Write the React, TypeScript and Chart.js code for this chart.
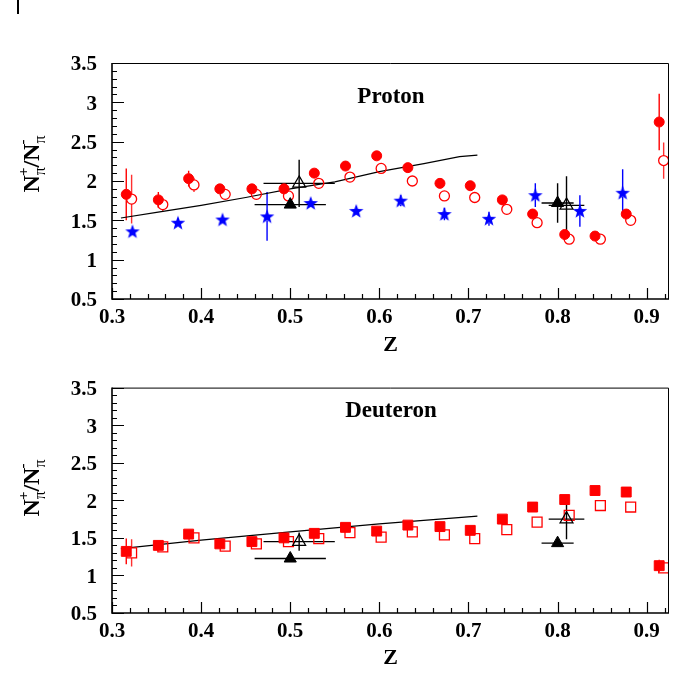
import React, { useEffect, useRef } from "react";
import { Chart, registerables } from "chart.js";
Chart.register(...registerables);

// ---------- data ----------
const zFilled = [0.316, 0.352, 0.386, 0.421, 0.457, 0.493, 0.527, 0.562, 0.597, 0.632, 0.668, 0.702, 0.738, 0.772, 0.808, 0.842, 0.877, 0.914];
const zOpen = [0.322, 0.357, 0.392, 0.427, 0.462, 0.498, 0.532, 0.567, 0.602, 0.637, 0.673, 0.707, 0.743, 0.777, 0.813, 0.848, 0.882, 0.919];

const protonFilled = [1.83, 1.76, 2.03, 1.90, 1.90, 1.90, 2.10, 2.19, 2.32, 2.17, 1.97, 1.94, 1.76, 1.58, 1.32, 1.30, 1.58, 2.75];
const protonFilledErr = [0.33, 0.1, 0.1, 0.06, 0.06, 0.06, 0.06, 0.06, 0.06, 0.05, 0.04, 0.04, 0.04, 0.04, 0.05, 0.05, 0.06, 0.36];
const protonOpen = [1.77, 1.70, 1.95, 1.83, 1.83, 1.81, 1.97, 2.05, 2.16, 2.00, 1.81, 1.79, 1.64, 1.47, 1.26, 1.26, 1.50, 2.26];
const protonOpenErr = [0.31, 0.08, 0.09, 0.05, 0.05, 0.05, 0.05, 0.05, 0.05, 0.04, 0.04, 0.04, 0.04, 0.04, 0.04, 0.04, 0.05, 0.23];

const zStar = [0.323, 0.374, 0.424, 0.474, 0.523, 0.574, 0.624, 0.673, 0.723, 0.775, 0.825, 0.873];
const protonStar = [1.36, 1.47, 1.51, 1.55, 1.72, 1.62, 1.75, 1.58, 1.52, 1.82, 1.62, 1.85];
const protonStarErr = [0.02, 0.02, 0.02, 0.31, 0.03, 0.03, 0.07, 0.08, 0.09, 0.15, 0.2, 0.3];

const zTriFilled = [0.5, 0.8];
const zTriFilledErr = [0.04, 0.018];
const zTriOpen = [0.51, 0.81];
const zTriOpenErr = [0.04, 0.02];
const protonTriFilled = [1.70, 1.72];
const protonTriFilledErr = [0, 0.25];
const protonTriOpen = [1.97, 1.69];
const protonTriOpenErr = [0.3, 0.37];

const zCurveP = [0.31, 0.35, 0.40, 0.45, 0.50, 0.55, 0.60, 0.65, 0.69, 0.71];
const protonCurve = [1.53, 1.60, 1.69, 1.79, 1.90, 1.99, 2.12, 2.22, 2.31, 2.33];

const deutFilled = [1.32, 1.40, 1.55, 1.42, 1.45, 1.50, 1.56, 1.64, 1.59, 1.67, 1.65, 1.60, 1.75, 1.91, 2.01, 2.13, 2.11, 1.13];
const deutFilledErr = [0.17, 0.04, 0.03, 0.03, 0.03, 0.03, 0.03, 0.03, 0.03, 0.03, 0.03, 0.03, 0.03, 0.03, 0.03, 0.03, 0.03, 0.08];
const deutOpen = [1.30, 1.38, 1.50, 1.39, 1.42, 1.45, 1.49, 1.57, 1.51, 1.58, 1.54, 1.49, 1.61, 1.71, 1.80, 1.93, 1.91, 1.10];
const deutOpenErr = [0.18, 0.03, 0.03, 0.03, 0.03, 0.03, 0.03, 0.03, 0.03, 0.03, 0.03, 0.03, 0.03, 0.03, 0.03, 0.03, 0.03, 0.06];

const deutTriFilled = [1.225, 1.43];
const deutTriFilledErr = [0, 0];
const deutTriOpen = [1.45, 1.75];
const deutTriOpenErr = [0.12, 0.27];

const zCurveD = [0.31, 0.40, 0.50, 0.60, 0.71];
const deutCurve = [1.356, 1.47, 1.58, 1.685, 1.79];

const xTicks = [0.3, 0.4, 0.5, 0.6, 0.7, 0.8, 0.9];
const yTicks = [0.5, 1, 1.5, 2, 2.5, 3, 3.5];
const X_MIN = 0.3, X_MAX = 0.925, Y_MIN = 0.5, Y_MAX = 3.5;

// ---------- helpers ----------
const SERIF = "'Liberation Serif', 'Times New Roman', serif";

function pts(xs: number[], ys: number[]) {
  return xs.map((x, i) => ({ x, y: ys[i] }));
}

let starImg: HTMLCanvasElement | null = null;
function getStar() {
  if (starImg) return starImg;
  const c = document.createElement("canvas");
  const S = 16;
  c.width = S; c.height = S;
  const g = c.getContext("2d")!;
  const cx = S / 2, cy = S / 2 + 0.6, R = 7.6, r = 3.1;
  g.beginPath();
  for (let i = 0; i < 10; i++) {
    const a = -Math.PI / 2 + (i * Math.PI) / 5;
    const rr = i % 2 === 0 ? R : r;
    const px = cx + rr * Math.cos(a), py = cy + rr * Math.sin(a);
    if (i === 0) g.moveTo(px, py); else g.lineTo(px, py);
  }
  g.closePath();
  g.fillStyle = "#0000ff";
  g.fill();
  starImg = c;
  return c;
}

const physPlugin = {
  id: "physPlugin",
  beforeDatasetsDraw(chart: any) {
    const { ctx } = chart;
    const xs = chart.scales.x, ys = chart.scales.y;
    ctx.save();
    chart.data.datasets.forEach((ds: any) => {
      if (!ds.yErr && !ds.xErr) return;
      const gap = ds.errGap || 0;
      ctx.strokeStyle = ds.errColor;
      ctx.lineWidth = 1.4;
      ds.data.forEach((p: any, j: number) => {
        const px = xs.getPixelForValue(p.x), py = ys.getPixelForValue(p.y);
        ctx.beginPath();
        if (ds.yErr && ds.yErr[j]) {
          const t = ys.getPixelForValue(p.y + ds.yErr[j]);
          const b = ys.getPixelForValue(p.y - ds.yErr[j]);
          if (py - gap > t) { ctx.moveTo(px, t); ctx.lineTo(px, py - gap); }
          if (py + gap < b) { ctx.moveTo(px, py + gap); ctx.lineTo(px, b); }
        }
        if (ds.xErr && ds.xErr[j]) {
          const l = xs.getPixelForValue(p.x - ds.xErr[j]);
          const r = xs.getPixelForValue(p.x + ds.xErr[j]);
          if (px - gap > l) { ctx.moveTo(l, py); ctx.lineTo(px - gap, py); }
          if (px + gap < r) { ctx.moveTo(px + gap, py); ctx.lineTo(r, py); }
        }
        ctx.stroke();
      });
    });
    ctx.restore();
  },
  afterDraw(chart: any) {
    const { ctx, chartArea: a } = chart;
    const xs = chart.scales.x, ys = chart.scales.y;
    ctx.save();
    // frame
    ctx.strokeStyle = "#000";
    ctx.lineWidth = 1;
    ctx.beginPath();
    ctx.moveTo(a.left, a.top + 0.5);
    ctx.lineTo(a.right - 0.5, a.top + 0.5);
    ctx.lineTo(a.right - 0.5, a.bottom);
    ctx.stroke();
    ctx.lineWidth = 1.6;
    ctx.beginPath();
    ctx.moveTo(a.left, a.top);
    ctx.lineTo(a.left, a.bottom);
    ctx.lineTo(a.right, a.bottom);
    ctx.stroke();
    // y ticks (inside)
    ctx.lineWidth = 1.2;
    ctx.beginPath();
    for (let i = 0; i <= 30; i++) {
      const v = Y_MIN + i * 0.1;
      const py = Math.round(ys.getPixelForValue(v)) + 0.5;
      const len = i % 5 === 0 ? 12 : 5;
      ctx.moveTo(a.left, py);
      ctx.lineTo(a.left + len, py);
    }
    // x ticks (inside)
    for (let i = 0; i <= 31; i++) {
      const v = X_MIN + i * 0.02;
      if (v > X_MAX + 1e-9) break;
      const px = Math.round(xs.getPixelForValue(v)) + 0.5;
      const len = i % 5 === 0 ? 11 : 5;
      ctx.moveTo(px, a.bottom);
      ctx.lineTo(px, a.bottom - len);
    }
    ctx.stroke();
    ctx.restore();
  },
};

function makeOptions(topPad: number, xHeight: number, titleBottom: number) {
  return {
    animation: false,
    responsive: false,
    maintainAspectRatio: false,
    layout: { padding: { left: 0, right: 31, top: topPad, bottom: 0 } },
    plugins: { legend: { display: false }, tooltip: { enabled: false } },
    scales: {
      x: {
        type: "linear",
        min: X_MIN,
        max: X_MAX,
        afterBuildTicks: (s: any) => { s.ticks = xTicks.map((v) => ({ value: v })); },
        afterFit: (s: any) => { s.height = xHeight; },
        grid: { display: false, drawTicks: false },
        border: { display: false },
        ticks: {
          padding: 6,
          color: "#000",
          maxRotation: 0,
          autoSkip: false,
          font: { family: SERIF, size: 21, weight: "bold" },
          callback: (v: any) => String(v),
        },
        title: {
          display: true,
          text: "Z",
          color: "#000",
          font: { family: SERIF, size: 22, weight: "bold" },
          padding: { top: 0, bottom: titleBottom },
        },
      },
      y: {
        type: "linear",
        min: Y_MIN,
        max: Y_MAX,
        afterBuildTicks: (s: any) => { s.ticks = yTicks.map((v) => ({ value: v })); },
        afterFit: (s: any) => { s.width = 112; },
        grid: { display: false, drawTicks: false },
        border: { display: false },
        ticks: {
          padding: 15,
          labelOffset: 2,
          color: "#000",
          autoSkip: false,
          font: { family: SERIF, size: 21, weight: "bold" },
          callback: (v: any) => String(v),
        },
      },
    },
  };
}

function markerSets(
  filled: number[], filledErr: number[], open: number[], openErr: number[],
  triF: number[], triFErr: number[], triO: number[], triOErr: number[],
  curveX: number[], curveY: number[], square: boolean,
) {
  const style = square ? "rect" : "circle";
  const rad = square ? 7 : 5;
  const gap = 5;
  return [
    {
      label: "open triangle", data: pts(zTriOpen, triO), pointStyle: "triangle", pointRadius: 7.5,
      backgroundColor: "rgba(255,255,255,0)", borderColor: "#000", borderWidth: 1.2,
      yErr: triOErr, xErr: zTriOpenErr, errColor: "#000",
    },
    {
      label: "filled triangle", data: pts(zTriFilled, triF), pointStyle: "triangle", pointRadius: 7,
      backgroundColor: "#000", borderColor: "#000", borderWidth: 1,
      yErr: triFErr, xErr: zTriFilledErr, errColor: "#000",
    },
    {
      label: "open", data: pts(zOpen, open), pointStyle: style, pointRadius: rad,
      backgroundColor: "rgba(0,0,0,0)", borderColor: "#ff0000", borderWidth: 1.3,
      yErr: openErr, errColor: "#ff3030", errGap: gap,
    },
    {
      label: "filled", data: pts(zFilled, filled), pointStyle: style, pointRadius: rad,
      backgroundColor: "#ff0000", borderColor: "#ff0000", borderWidth: 1,
      yErr: filledErr, errColor: "#ff0000", errGap: gap,
    },
    {
      label: "curve", data: pts(curveX, curveY), showLine: true, pointRadius: 0,
      borderColor: "#000", borderWidth: 1.2, fill: false, tension: 0,
    },
  ];
}

function Panel({ which }: { which: "p" | "d" }) {
  const ref = useRef<HTMLCanvasElement>(null);
  useEffect(() => {
    if (!ref.current) return;
    let datasets: any[];
    if (which === "p") {
      datasets = markerSets(protonFilled, protonFilledErr, protonOpen, protonOpenErr,
        protonTriFilled, protonTriFilledErr, protonTriOpen, protonTriOpenErr, zCurveP, protonCurve, false);
      datasets.push({
        label: "star", data: pts(zStar, protonStar), pointStyle: getStar(), pointRadius: 8,
        backgroundColor: "#0000ff", borderColor: "#0000ff", yErr: protonStarErr, errColor: "#0000ff", errGap: 4,
      });
    } else {
      datasets = markerSets(deutFilled, deutFilledErr, deutOpen, deutOpenErr,
        deutTriFilled, deutTriFilledErr, deutTriOpen, deutTriOpenErr, zCurveD, deutCurve, true);
    }
    const opts = which === "p" ? makeOptions(63, 61, 1) : makeOptions(17, 63, 4);
    const chart = new Chart(ref.current, {
      type: "scatter",
      data: { datasets },
      options: opts as any,
      plugins: [physPlugin as any],
    });
    return () => chart.destroy();
  }, [which]);
  const h = which === "p" ? 360 : 316;
  return <canvas ref={ref} width={700} height={h} style={{ display: "block", width: 700, height: h }} />;
}

function YTitle({ cy }: { cy: number }) {
  const big: React.CSSProperties = { fontSize: 24, fontWeight: "bold" };
  const sub: React.CSSProperties = { fontSize: 16, position: "relative", top: 6, fontWeight: "normal" };
  const sup: React.CSSProperties = { fontSize: 15, position: "relative", top: -11, marginLeft: -9, fontWeight: "bold" };
  return (
    <div
      style={{
        position: "absolute", left: 30.5, top: cy, transform: "translate(-50%, -50%) rotate(-90deg)",
        fontFamily: SERIF, lineHeight: 1, whiteSpace: "nowrap", color: "#000",
      }}
    >
      <span style={big}>N</span><span style={sub}>π</span><span style={sup}>+</span>
      <span style={big}>/N</span><span style={sub}>π</span><span style={{ ...sup, top: -12 }}>-</span>
    </div>
  );
}

function Label({ text, cx, cy }: { text: string; cx: number; cy: number }) {
  return (
    <div
      style={{
        position: "absolute", left: cx, top: cy, transform: "translate(-50%, -50%)",
        fontFamily: SERIF, fontWeight: "bold", fontSize: 23, lineHeight: 1, color: "#000", whiteSpace: "nowrap",
      }}
    >
      {text}
    </div>
  );
}

export default function App() {
  return (
    <div style={{ position: "absolute", left: 0, top: 0, width: 700, height: 676, background: "#fff", overflow: "hidden" }}>
      <div style={{ position: "absolute", left: 0, top: 0 }}>
        <Panel which="p" />
      </div>
      <div style={{ position: "absolute", left: 0, top: 360 }}>
        <Panel which="d" />
      </div>
      <div style={{ position: "absolute", left: 17, top: 0, width: 2, height: 14, background: "#000" }} />
      <YTitle cy={166} />
      <YTitle cy={490} />
      <Label text="Proton" cx={391} cy={95} />
      <Label text="Deuteron" cx={391} cy={409} />
    </div>
  );
}
